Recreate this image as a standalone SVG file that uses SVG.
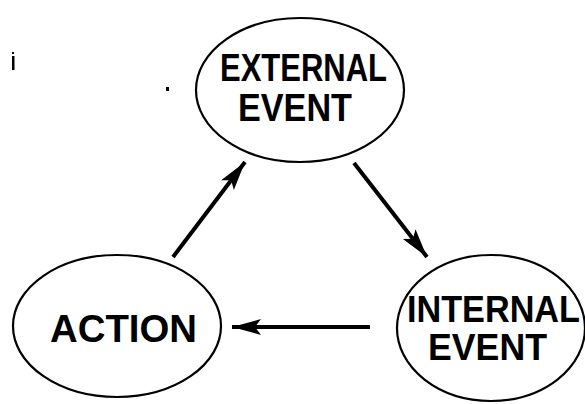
<svg xmlns="http://www.w3.org/2000/svg" width="585" height="404" viewBox="0 0 585 404">
<style>
.node ellipse{fill:none;stroke:#000;stroke-width:2.2}
.node text{font-family:"Liberation Sans",Arial,sans-serif;font-weight:bold;font-size:39px;fill:#000}
.node text.sm{font-size:36px}
.edge{stroke:#000;stroke-width:4;fill:none;marker-end:url(#ah)}
</style>
<defs>
<marker id="ah" markerUnits="userSpaceOnUse" markerWidth="32" markerHeight="20" refX="29" refY="8" orient="auto">
<path d="M0,0 L29,8 L0,16 L6,8 Z" fill="#000"/>
</marker>
</defs>
<rect width="585" height="404" fill="#fff"/>
<g id="external-event" class="node">
<ellipse cx="300" cy="90" rx="104" ry="72"/>
<text x="220" y="81" textLength="167" lengthAdjust="spacingAndGlyphs">EXTERNAL</text>
<text x="238" y="121" textLength="114" lengthAdjust="spacingAndGlyphs">EVENT</text>
</g>
<g id="action" class="node">
<ellipse cx="117" cy="326" rx="104" ry="71"/>
<text x="50" y="342" textLength="147" lengthAdjust="spacingAndGlyphs">ACTION</text>
</g>
<g id="internal-event" class="node">
<ellipse cx="491" cy="328" rx="94" ry="73"/>
<text class="sm" x="407" y="322" textLength="173" lengthAdjust="spacingAndGlyphs">INTERNAL</text>
<text class="sm" x="428" y="360" textLength="119" lengthAdjust="spacingAndGlyphs">EVENT</text>
</g>
<g id="connectors">
<line class="edge" x1="173" y1="257" x2="245" y2="162"/>
<line class="edge" x1="354" y1="163" x2="427" y2="257"/>
<line class="edge" x1="370" y1="327" x2="232" y2="327"/>
</g>
<g id="specks" fill="#000">
<rect x="12" y="52" width="2" height="2"/>
<rect x="12" y="56" width="2.5" height="14"/>
<rect x="166" y="87" width="3" height="4"/>
</g>
</svg>
